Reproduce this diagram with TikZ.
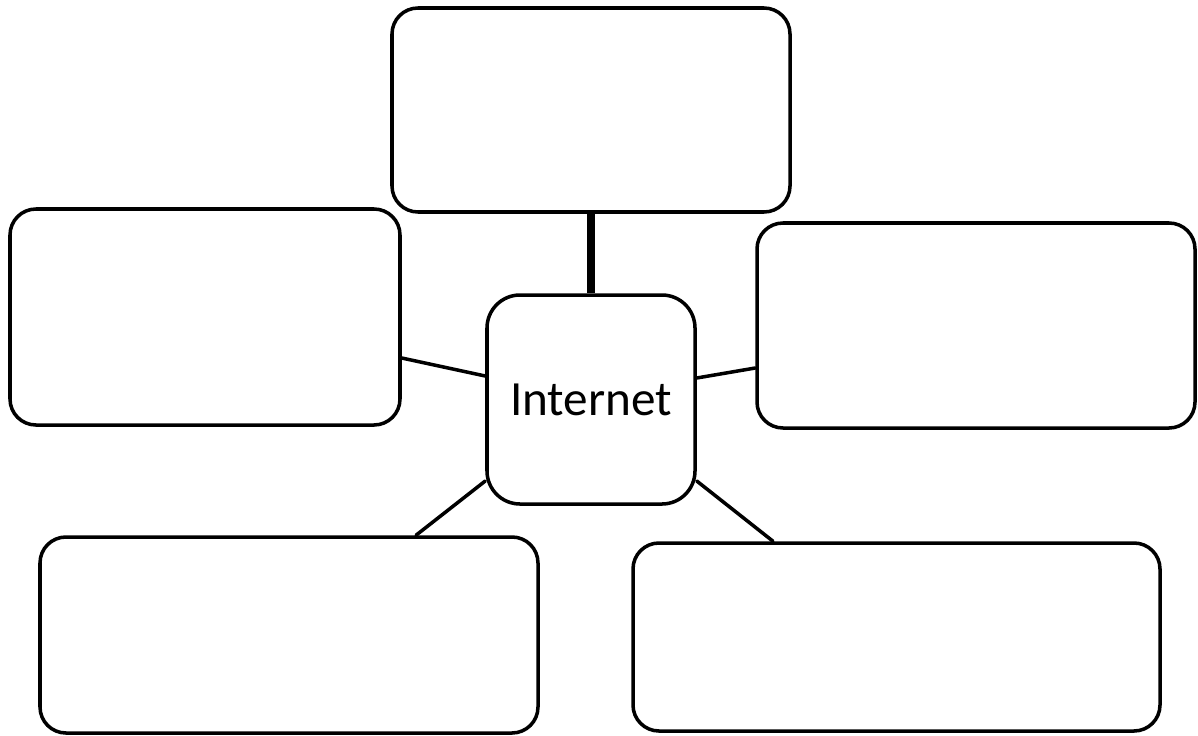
\documentclass[tikz,border=0pt]{standalone}
\usepackage{fontspec}
\setmainfont{Carlito}
\begin{document}
\begin{tikzpicture}[line join=round, line cap=round,
	box/.style={draw, line width=1pt, rounded corners=2.6mm, inner sep=0pt},
	link/.style={line width=1pt}]
			\useasboundingbox (0,0) rectangle (11.98,7.35);
			\path
			(5.91,6.25) node[box,minimum width=3.98cm,minimum height=2.04cm] (top) {}
			(2.05,4.18) node[box,minimum width=3.90cm,minimum height=2.16cm] (left) {}
			(9.76,4.095) node[box,minimum width=4.38cm,minimum height=2.05cm] (right) {}
			(5.91,3.355) node[box,rounded corners=3.3mm,minimum width=2.08cm,minimum height=2.09cm,font=\fontsize{14}{17}\selectfont] (hub) {Internet}
			(2.89,1.00) node[box,minimum width=4.98cm,minimum height=1.96cm] (bl) {}
			(8.965,0.98) node[box,minimum width=5.27cm,minimum height=1.88cm] (br) {};
			\draw[line width=2pt,line cap=butt] (top.south) -- (hub.north);
			\draw[link] ([yshift=-4.1mm]left.east) -- ([yshift=2.35mm]hub.west);
			\draw[link] ([yshift=2.15mm]hub.east) -- ([yshift=-4.25mm]right.west);
			\draw[link] ([yshift=-8.15mm]hub.west) -- ([xshift=12.7mm]bl.north);
			\draw[link] ([yshift=-8.15mm]hub.east) -- ([xshift=-12.35mm]br.north);
		\end{tikzpicture}
\end{document}
